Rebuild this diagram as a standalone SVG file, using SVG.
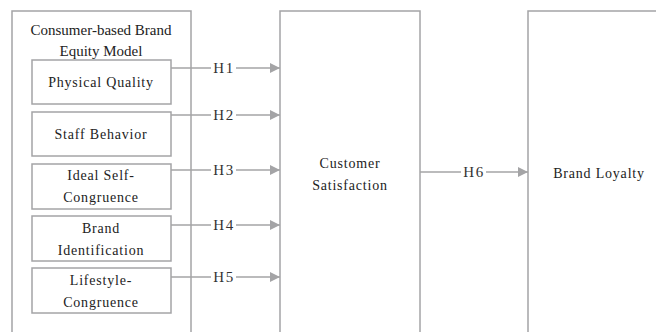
<svg xmlns="http://www.w3.org/2000/svg" width="656" height="332" viewBox="0 0 656 332">
  <style>
    .box { fill: #ffffff; stroke: #a4a4a6; stroke-width: 1.5; }
    .lbl { font-family: "Liberation Serif", "Times New Roman", serif; font-size: 14px; fill: #222222; text-anchor: middle; letter-spacing: 0.8px; }
    .title { font-family: "Liberation Serif", "Times New Roman", serif; font-size: 15px; fill: #222222; text-anchor: middle; }
    .hyp { font-family: "Liberation Serif", "Times New Roman", serif; font-size: 15px; fill: #333333; text-anchor: middle; letter-spacing: 1.5px; }
    .edge { stroke: #a4a4a6; stroke-width: 1.5; fill: none; }
  </style>
  <defs>
    <marker id="arrow" viewBox="0 0 10 10" refX="10" refY="5" markerWidth="15" markerHeight="10" markerUnits="userSpaceOnUse" orient="auto">
      <path d="M0,0 L10,5 L0,10 Z" fill="#a4a4a6"/>
    </marker>
  </defs>
  <rect width="656" height="332" fill="#ffffff"/>

  <g id="cbbe-model">
    <rect class="box" x="12" y="11" width="179" height="330"/>
    <text class="title" x="101" y="35">Consumer-based Brand</text>
    <text class="title" x="101" y="56">Equity Model</text>
  </g>

  <g id="physical-quality">
    <rect class="box" x="32" y="60" width="139" height="44"/>
    <text class="lbl" x="101" y="87">Physical Quality</text>
  </g>
  <g id="staff-behavior">
    <rect class="box" x="32" y="112" width="139" height="44"/>
    <text class="lbl" x="101" y="139">Staff Behavior</text>
  </g>
  <g id="ideal-self-congruence">
    <rect class="box" x="32" y="164" width="139" height="45"/>
    <text class="lbl" x="101" y="180">Ideal Self-</text>
    <text class="lbl" x="101" y="202">Congruence</text>
  </g>
  <g id="brand-identification">
    <rect class="box" x="32" y="216" width="139" height="45"/>
    <text class="lbl" x="101" y="233">Brand</text>
    <text class="lbl" x="101" y="255">Identification</text>
  </g>
  <g id="lifestyle-congruence">
    <rect class="box" x="32" y="268" width="139" height="45"/>
    <text class="lbl" x="101" y="285">Lifestyle-</text>
    <text class="lbl" x="101" y="307">Congruence</text>
  </g>

  <g id="customer-satisfaction">
    <rect class="box" x="280" y="11" width="140" height="330"/>
    <text class="lbl" x="350" y="168">Customer</text>
    <text class="lbl" x="350" y="190">Satisfaction</text>
  </g>

  <g id="brand-loyalty">
    <rect class="box" x="528" y="11" width="140" height="330"/>
    <text class="lbl" x="599" y="178" letter-spacing="1.2">Brand Loyalty</text>
  </g>

  <g id="connectors">
    <path class="edge" d="M171,68 H211"/>
    <path class="edge" d="M236,68 H280" marker-end="url(#arrow)"/>
    <text class="hyp" x="224" y="73">H1</text>

    <path class="edge" d="M171,115 H211"/>
    <path class="edge" d="M236,115 H280" marker-end="url(#arrow)"/>
    <text class="hyp" x="224" y="120">H2</text>

    <path class="edge" d="M171,170 H211"/>
    <path class="edge" d="M236,170 H280" marker-end="url(#arrow)"/>
    <text class="hyp" x="224" y="175">H3</text>

    <path class="edge" d="M171,225 H211"/>
    <path class="edge" d="M236,225 H280" marker-end="url(#arrow)"/>
    <text class="hyp" x="224" y="230">H4</text>

    <path class="edge" d="M171,277 H211"/>
    <path class="edge" d="M236,277 H280" marker-end="url(#arrow)"/>
    <text class="hyp" x="224" y="282">H5</text>

    <path class="edge" d="M420,172 H461"/>
    <path class="edge" d="M486,172 H528" marker-end="url(#arrow)"/>
    <text class="hyp" x="474" y="177">H6</text>
  </g>
</svg>
